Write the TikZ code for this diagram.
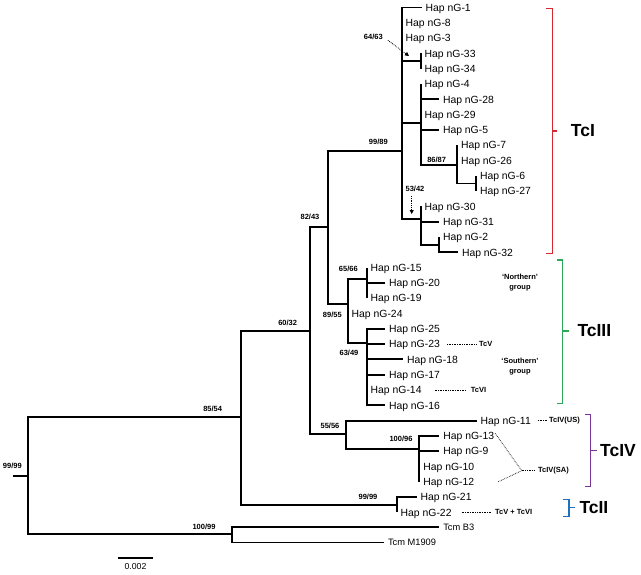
\documentclass[tikz,border=0pt]{standalone}
\usepackage{fontspec}
\setmainfont{Liberation Sans}
\usetikzlibrary{arrows.meta,positioning}
\definecolor{tciRed}{RGB}{214,38,48}
\definecolor{tciiiGreen}{RGB}{44,168,88}
\definecolor{tcivPurple}{RGB}{122,52,150}
\definecolor{tciiBlue}{RGB}{32,112,192}
\tikzset{
    branch/.style={draw, line width=1.9pt},
    leaf/.style={anchor=west, inner sep=0pt, outer xsep=4pt, text height=7.4pt, text depth=0pt, font=\fontsize{10.4}{12}\selectfont},
    outgroup/.style={leaf, text height=6.7pt, font=\fontsize{9.3}{11}\selectfont},
    boot/.style={inner sep=0pt, font=\fontsize{7.5}{9}\selectfont\bfseries},
    tag/.style={anchor=west, inner sep=0pt, font=\fontsize{7.5}{9}\selectfont\bfseries},
    group/.style={align=center, inner sep=0pt, font=\fontsize{7.5}{10}\selectfont\bfseries},
    leader/.style={draw, densely dotted, line width=0.7pt},
    pointer/.style={draw, densely dotted, line width=0.8pt, -{Triangle[length=4pt,width=4pt]}},
    bracket/.style={draw, line width=1.5pt},
    lineage/.style={anchor=west, inner sep=0pt, font=\fontsize{17.5}{20}\selectfont\bfseries}
}
\begin{document}
\begin{tikzpicture}[x=1pt, y=-1pt]
    \useasboundingbox (0,0) rectangle (641,574);

    % internal nodes
    \coordinate (stub) at (12.7,476);
    \coordinate (nRoot) at (27.7,476);
    \coordinate (nA) at (240.7,417.3);
    \coordinate (nOut) at (231.7,534.3);
    \coordinate (nB) at (310,330.7);
    \coordinate (nTcII) at (396.7,504.8);
    \coordinate (nC) at (328.3,227.3);
    \coordinate (nD) at (345.7,434.3);
    \coordinate (nTcI) at (401.7,150.7);
    \coordinate (nTcIII) at (347.7,304);
    \coordinate (n33) at (420.7,61);
    \coordinate (n4) at (420.7,123);
    \coordinate (n26) at (457,165);
    \coordinate (n6) at (476,183.5);
    \coordinate (n30) at (420.7,219);
    \coordinate (n2) at (439,244.6);
    \coordinate (n15) at (366.7,279);
    \coordinate (n25) at (366.7,342.7);
    \coordinate (n13) at (419.3,449.3);

    % leaves
    \node[leaf] (h1) at (421.7,7.5) {Hap nG-1};
    \node[leaf] (h8) at (401.7,22.8) {Hap nG-8};
    \node[leaf] (h3) at (401.7,38.1) {Hap nG-3};
    \node[leaf] (h33) at (420.7,53.4) {Hap nG-33};
    \node[leaf] (h34) at (420.7,68.7) {Hap nG-34};
    \node[leaf] (h4) at (420.7,84) {Hap nG-4};
    \node[leaf] (h28) at (439,99.3) {Hap nG-28};
    \node[leaf] (h29) at (420.7,114.6) {Hap nG-29};
    \node[leaf] (h5) at (439,129.9) {Hap nG-5};
    \node[leaf] (h7) at (457,145.2) {Hap nG-7};
    \node[leaf] (h26) at (457,160.5) {Hap nG-26};
    \node[leaf] (h6) at (476,175.8) {Hap nG-6};
    \node[leaf] (h27) at (476,191.1) {Hap nG-27};
    \node[leaf] (h30) at (420.7,206.4) {Hap nG-30};
    \node[leaf] (h31) at (439,221.7) {Hap nG-31};
    \node[leaf] (h2) at (439,237) {Hap nG-2};
    \node[leaf] (h32) at (458,252.3) {Hap nG-32};
    \node[leaf] (h15) at (366.7,267.6) {Hap nG-15};
    \node[leaf] (h20) at (385,282.9) {Hap nG-20};
    \node[leaf] (h19) at (366.7,298.2) {Hap nG-19};
    \node[leaf] (h24) at (347.7,313.5) {Hap nG-24};
    \node[leaf] (h25) at (385,328.8) {Hap nG-25};
    \node[leaf] (h23) at (385,344.1) {Hap nG-23};
    \node[leaf] (h18) at (403,359.4) {Hap nG-18};
    \node[leaf] (h17) at (385,374.7) {Hap nG-17};
    \node[leaf] (h14) at (366.7,390) {Hap nG-14};
    \node[leaf] (h16) at (385,405.3) {Hap nG-16};
    \node[leaf] (h11) at (476.7,420.6) {Hap nG-11};
    \node[leaf] (h13) at (439.3,435.9) {Hap nG-13};
    \node[leaf] (h9) at (439.3,451.2) {Hap nG-9};
    \node[leaf] (h10) at (419.3,466.5) {Hap nG-10};
    \node[leaf] (h12) at (419.3,481.8) {Hap nG-12};
    \node[leaf] (h21) at (416.7,497.1) {Hap nG-21};
    \node[leaf] (h22) at (396.7,512.4) {Hap nG-22};
    \node[outgroup] (b3) at (439.3,527) {Tcm B3};
    \node[outgroup] (m1909) at (384,542.5) {Tcm M1909};

    % backbone
    \draw[branch] (stub) -- (nRoot);
    \draw[branch] (nRoot) |- (nA);
    \draw[branch] (nRoot) |- (nOut);
    \draw[branch] (nA) |- (nB);
    \draw[branch] (nA) |- (nTcII);
    \draw[branch] (nB) |- (nC);
    \draw[branch] (nB) |- (nD);
    \draw[branch] (nC) |- (nTcI);
    \draw[branch] (nC) |- (nTcIII);

    % TcI
    \draw[branch] (nTcI) |- (h1);
    \draw[branch] (nTcI) |- (h8);
    \draw[branch] (nTcI) |- (h3);
    \draw[branch] (nTcI) |- (n33);
    \draw[branch] (nTcI) |- (n4);
    \draw[branch] (nTcI) |- (n30);
    \draw[branch] (n33) |- (h33);
    \draw[branch] (n33) |- (h34);
    \draw[branch] (n4) |- (h4);
    \draw[branch] (n4) |- (h28);
    \draw[branch] (n4) |- (h29);
    \draw[branch] (n4) |- (h5);
    \draw[branch] (n4) |- (n26);
    \draw[branch] (n26) |- (h7);
    \draw[branch] (n26) |- (h26);
    \draw[branch] (n26) |- (n6);
    \draw[branch] (n6) |- (h6);
    \draw[branch] (n6) |- (h27);
    \draw[branch] (n30) |- (h30);
    \draw[branch] (n30) |- (h31);
    \draw[branch] (n30) |- (n2);
    \draw[branch] (n2) |- (h2);
    \draw[branch] (n2) |- (h32);

    % TcIII
    \draw[branch] (nTcIII) |- (n15);
    \draw[branch] (nTcIII) |- (h24);
    \draw[branch] (nTcIII) |- (n25);
    \draw[branch] (n15) |- (h15);
    \draw[branch] (n15) |- (h20);
    \draw[branch] (n15) |- (h19);
    \draw[branch] (n25) |- (h25);
    \draw[branch] (n25) |- (h23);
    \draw[branch] (n25) |- (h18);
    \draw[branch] (n25) |- (h17);
    \draw[branch] (n25) |- (h14);
    \draw[branch] (n25) |- (h16);

    % TcIV, TcII and outgroup
    \draw[branch] (nD) |- (h11);
    \draw[branch] (nD) |- (n13);
    \draw[branch] (n13) |- (h13);
    \draw[branch] (n13) |- (h9);
    \draw[branch] (n13) |- (h10);
    \draw[branch] (n13) |- (h12);
    \draw[branch] (nTcII) |- (h21);
    \draw[branch] (nTcII) |- (h22);
    \draw[branch] (nOut) |- (b3);
    \draw[branch] (nOut) |- (m1909);

    % support values
    \node[boot] (b6463) at (373.3,37.3) {64/63};
    \node[boot] (b9989) at (378.3,141.7) {99/89};
    \node[boot] (b8687) at (436.7,160) {86/87};
    \node[boot] (b5342) at (415,189) {53/42};
    \node[boot] (b8243) at (310,217.3) {82/43};
    \node[boot] (b6566) at (348.3,269.3) {65/66};
    \node[boot] (b8955) at (332.3,315) {89/55};
    \node[boot] (b6032) at (287.7,322.7) {60/32};
    \node[boot] (b6349) at (349,352.7) {63/49};
    \node[boot] (b5556) at (330,425.7) {55/56};
    \node[boot] (b10096) at (401,439.3) {100/96};
    \node[boot] (b8554) at (212.7,409) {85/54};
    \node[boot] (b9999) at (368,497) {99/99};
    \node[boot] (b10099) at (204,526.7) {100/99};
    \node[boot] (bRoot) at (12.3,466) {99/99};

    \coordinate (p33) at (409,56);
    \coordinate (p30) at (411.7,214);
    \draw[pointer] ([xshift=5pt,yshift=-3pt]b6463.east) -- (p33);
    \draw[pointer] ([xshift=-3.3pt,yshift=-4pt]b5342.south) -- (p30);

    % lineage tags
    \node[tag] (tcV) at (479,344.1) {TcV};
    \node[tag] (tcVI) at (470.7,390) {TcVI};
    \node[tag] (tcIVus) at (549,420.6) {TcIV(US)};
    \node[tag] (tcIVsa) at (538,470.7) {TcIV(SA)};
    \node[tag] (tcVVI) at (495,512.4) {TcV + TcVI};
    \coordinate (jSA) at (521.7,470.7);
    \draw[leader] ([xshift=3pt]h23.east) -- ([xshift=-2pt]tcV.west);
    \draw[leader] ([xshift=9pt]h14.east) -- ([xshift=-4pt]tcVI.west);
    \draw[leader] ([xshift=3pt]h11.east) -- ([xshift=-2pt]tcIVus.west);
    \draw[leader] ([xshift=6pt]h22.east) -- ([xshift=-3pt]tcVVI.west);
    \draw[leader] ([xshift=-3pt,yshift=2.5pt]h13.east) -- (jSA);
    \draw[leader] ([xshift=20pt]h12.east) -- (jSA);
    \draw[leader] (jSA) -- ([xshift=-4pt]tcIVsa.west);

    \node[group] (north) at (520,282.7) {‘Northern’\\group};
    \node[group] (south) at (520,366.7) {‘Southern’\\group};

    % brackets
    \draw[bracket, tciRed] (546,8.3) -- (552.7,8.3) -- (552.7,253.3) -- (546,253.3)
        (552.7,131) -- (557.3,131);
    \draw[bracket, tciiiGreen] (556.7,260) -- (562.7,260) -- (562.7,403.3) -- (556.7,403.3)
        (562.7,331) -- (569,331);
    \draw[bracket, tcivPurple] (585,414.3) -- (590.7,414.3) -- (590.7,486.7) -- (585,486.7)
        (590.7,450.7) -- (596.7,450.7);
    \draw[bracket, tciiBlue] (562.7,499.3) -- (569,499.3) -- (569,516.7) -- (562.7,516.7)
        (569,507.7) -- (575,507.7);
    \node[lineage] (lTcI) at (570.7,131) {TcI};
    \node[lineage] (lTcIII) at (577.3,331) {TcIII};
    \node[lineage] (lTcIV) at (600,451) {TcIV};
    \node[lineage] (lTcII) at (579.3,507.7) {TcII};

    % scale bar
    \coordinate (sbL) at (118.3,558);
    \coordinate (sbR) at (152.7,558);
    \draw[branch, line width=1.6pt] (sbL) -- (sbR)
        node[midway, below=4.5pt, inner sep=0pt, font=\fontsize{8.7}{10}\selectfont] (sbText) {0.002};
\end{tikzpicture}
\end{document}
